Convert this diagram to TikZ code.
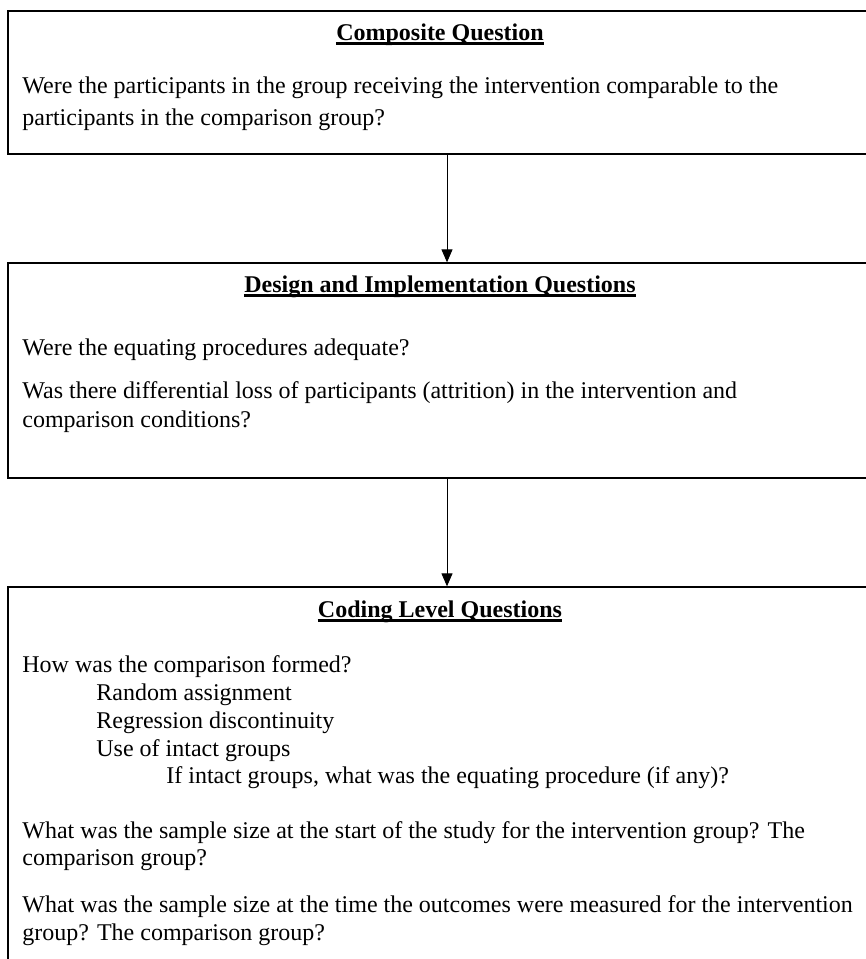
\documentclass[tikz,border=0pt]{standalone}
\usepackage{fontspec}
\setmainfont{Liberation Serif}
\usetikzlibrary{arrows.meta}
\tikzset{
  qbox/.style={draw, line width=0.65pt, rectangle, inner sep=0pt},
  qhead/.style={anchor=base, inner sep=0pt, font=\fontsize{12}{14}\selectfont\bfseries},
  qline/.style={anchor=base west, inner sep=0pt},
  qunder/.style={line width=1.3pt},
  qarrow/.style={line width=0.5pt, -{Triangle[length=6.5pt,width=5.5pt]}}
}
\begin{document}
\begin{tikzpicture}[x=0.5pt,y=-0.5pt,font=\fontsize{12}{14}\selectfont]
\useasboundingbox (0,0) rectangle (866,959);
\clip (0,0) rectangle (866,959);

% boxes
\node[qbox, minimum width=439pt, minimum height=71.5pt] (composite) at (447,82.5) {};
\node[qbox, minimum width=439pt, minimum height=107.5pt] (design) at (447,370.5) {};
\node[qbox, minimum width=439pt, minimum height=206.5pt] (coding) at (447,793.5) {};

\draw[qarrow] (composite.south) -- (design.north);
\draw[qarrow] (design.south) -- (coding.north);

% headings
\node[qhead] (compositehead) at (440,40) {Composite Question};
\draw[qunder] ([yshift=-1.6pt]compositehead.base west) -- ([yshift=-1.6pt]compositehead.base east);
\node[qhead] (designhead) at (440,292) {Design and Implementation Questions};
\draw[qunder] ([yshift=-1.6pt]designhead.base west) -- ([yshift=-1.6pt]designhead.base east);
\node[qhead] (codinghead) at (440,617) {Coding Level Questions};
\draw[qunder] ([yshift=-1.6pt]codinghead.base west) -- ([yshift=-1.6pt]codinghead.base east);

% composite question
\node[qline] (c1) at (22,93) {Were the participants in the group receiving the intervention comparable to the};
\node[qline] (c2) at (22,125) {participants in the comparison group?};

% design and implementation
\node[qline] (d1) at (22,355) {Were the equating procedures adequate?};
\node[qline] (d2) at (22,398) {Was there differential loss of participants (attrition) in the intervention and};
\node[qline] (d3) at (22,427) {comparison conditions?};

% coding level
\node[qline] (k1) at (22,672) {How was the comparison formed?};
\node[qline] (k2) at (96,700) {Random assignment};
\node[qline] (k3) at (96,728) {Regression discontinuity};
\node[qline] (k4) at (96,756) {Use of intact groups};
\node[qline] (k5) at (166,783) {If intact groups, what was the equating procedure (if any)?};
\node[qline] (k6) at (22,838) {What was the sample size at the start of the study for the intervention group? The};
\node[qline] (k7) at (22,865) {comparison group?};
\node[qline] (k8) at (22,912) {What was the sample size at the time the outcomes were measured for the intervention};
\node[qline] (k9) at (22,940) {group? The comparison group?};
\end{tikzpicture}
\end{document}
